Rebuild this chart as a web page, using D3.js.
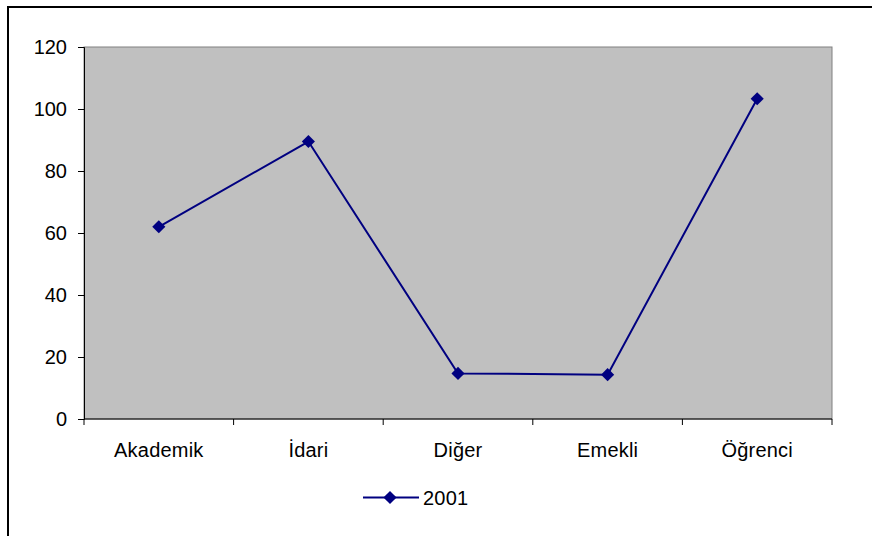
<!DOCTYPE html>
<html><head><meta charset="utf-8">
<script src="https://cdn.jsdelivr.net/npm/d3@7"></script>
<style>
html,body{margin:0;padding:0;background:#fff;}
svg text{font-family:"Liberation Sans",Arial,sans-serif;}
</style></head>
<body>
<svg id="c" width="872" height="536"></svg>
<script>
const categories = ["Akademik", "İdari", "Diğer", "Emekli", "Öğrenci"];
const values2001 = [62, 89.5, 14.7, 14.3, 103.3];
const yTicks = [0, 20, 40, 60, 80, 100, 120];
const seriesName = "2001";

const svg = d3.select("#c");
const plot = {left: 84, top: 47, right: 832, bottom: 419};

// outer chart border (extends off-canvas right/bottom)
svg.append("rect").attr("x", 8).attr("y", 7).attr("width", 900).attr("height", 600)
  .attr("fill", "#fff").attr("stroke", "#000").attr("stroke-width", 2);

const x = d3.scaleBand().domain(categories).range([plot.left, plot.right]).padding(0);
const y = d3.scaleLinear().domain([0, 120]).range([plot.bottom, plot.top]);

// plot area
svg.append("rect").attr("x", plot.left).attr("y", plot.top)
  .attr("width", plot.right - plot.left).attr("height", plot.bottom - plot.top)
  .attr("fill", "#C0C0C0").attr("stroke", "#808080").attr("stroke-width", 1);

// y axis
const yAxis = svg.append("g").attr("transform", `translate(${plot.left},0)`)
  .call(d3.axisLeft(y).tickValues(yTicks).tickSize(6).tickPadding(11).tickFormat(d3.format("d")));
yAxis.select(".domain").attr("stroke", "#000");
yAxis.selectAll(".tick line").attr("stroke", "#000");
yAxis.selectAll("text").attr("font-size", 20).attr("fill", "#000")
  .attr("font-family", "'Liberation Sans', Arial, sans-serif");

// x axis: ticks at band boundaries
const xg = svg.append("g");
xg.append("line").attr("x1", plot.left).attr("x2", plot.right)
  .attr("y1", plot.bottom).attr("y2", plot.bottom).attr("stroke", "#000");
const bounds = categories.map(c => x(c)).concat([x(categories[categories.length - 1]) + x.bandwidth()]);
xg.selectAll("line.tk").data(bounds).join("line").attr("class", "tk")
  .attr("x1", d => d).attr("x2", d => d).attr("y1", plot.bottom).attr("y2", plot.bottom + 6)
  .attr("stroke", "#000");
xg.selectAll("text").data(categories).join("text")
  .attr("x", d => x(d) + x.bandwidth() / 2).attr("y", 457)
  .attr("text-anchor", "middle").attr("font-size", 20).attr("letter-spacing", 0.2)
  .attr("fill", "#000").text(d => d);

// series
const color = "#000080";
const line = d3.line().x((d, i) => x(categories[i]) + x.bandwidth() / 2).y(d => y(d));
svg.append("path").datum(values2001).attr("d", line)
  .attr("fill", "none").attr("stroke", color).attr("stroke-width", 2);
const diamond = d3.symbol().type(d3.symbolDiamond2).size(110);
svg.selectAll("path.mk").data(values2001).join("path").attr("class", "mk")
  .attr("d", diamond)
  .attr("transform", (d, i) => `translate(${x(categories[i]) + x.bandwidth() / 2},${y(d)})`)
  .attr("fill", color);

// legend
const lg = svg.append("g");
lg.append("line").attr("x1", 363).attr("x2", 419).attr("y1", 497.5).attr("y2", 497.5)
  .attr("stroke", color).attr("stroke-width", 2);
lg.append("path").attr("d", diamond).attr("transform", "translate(390,497.5)").attr("fill", color);
lg.append("text").attr("x", 423).attr("y", 504.5).attr("font-size", 20).attr("letter-spacing", 0.2)
  .attr("fill", "#000").text(seriesName);
</script>
</body></html>
